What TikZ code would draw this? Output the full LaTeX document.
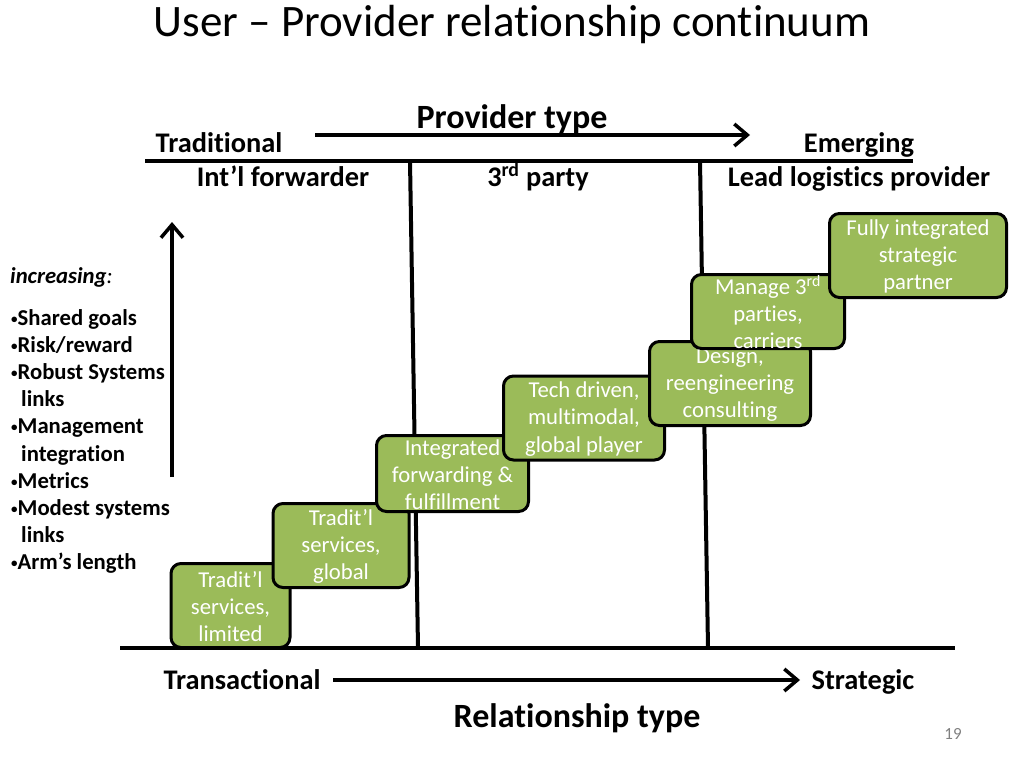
\documentclass[tikz,border=0pt]{standalone}
\usepackage{fontspec}
\setmainfont{Carlito}[Ligatures={TeX,NoCommon}]
\usetikzlibrary{arrows.meta,positioning,calc}
\definecolor{stairgreen}{HTML}{9BBB59}
\newcommand{\stairlabel}[3]{\parbox[c][#2pt][c]{#1pt}{\vspace*{2pt}\centering #3}}
\newcommand{\dotmark}{\raisebox{2pt}{\fontsize{13}{13}\selectfont •}}
\begin{document}
\begin{tikzpicture}[x=1pt, y=-1pt,
    head/.style={font=\bfseries\fontsize{28.4}{34}\selectfont, inner sep=0pt},
    axislabel/.style={font=\bfseries\fontsize{34}{40}\selectfont, inner sep=0pt},
    stair/.style={draw=black, line width=3pt, fill=stairgreen, rounded corners=10pt,
        inner sep=0pt, text=white, font=\fontsize{22.7}{27.2}\selectfont},
    bar/.style={line width=4pt},
    flow/.style={line width=3.5pt, -{Straight Barb[length=13pt,width=22pt]}}]
        \useasboundingbox (0,0) rectangle (1024,768);
        % Title
        \node [anchor=base, font=\fontsize{45}{54}\selectfont] (title) at (512,37)
            {User – Provider relationship continuum};

        % Provider type axis
        \node [axislabel, anchor=base] (ptype) at (512,128) {Provider type};
        \node [head, anchor=base] (trad) at (219,152) {Traditional};
        \node [head, anchor=base] (emerg) at (859,152) {Emerging};
        \coordinate (ptail) at (315,135);
        \coordinate (phead) at (750,135);
        \draw [flow] (ptail) -- (phead);
        \draw [bar] (145,161) -- (913,161);
        \node [head, anchor=base] (fwd) at (283,186) {Int’l forwarder};
        \node [head, anchor=base] (third) at (538,186) {3\textsuperscript{rd} party};
        \node [head, anchor=base] (llp) at (859,186) {Lead logistics provider};

        % Dividers and base line
        \draw [bar] (410,161) -- (418,648);
        \draw [bar] (700,161) -- (708,648);
        \draw [bar] (120,648) -- (955,648);

        % Steps
        \node [stair] (limited) at (230.5,605.5)
            {\stairlabel{119}{84}{Tradit’l\\services,\\limited}};
        \node [stair] (global) at (341,545.5)
            {\stairlabel{136}{84}{Tradit’l\\services,\\global}};
        \node [stair] (integrated) at (452.5,473.5)
            {\stairlabel{152}{76}{Integrated\\forwarding \&\\fulfillment}};
        \node [stair] (tech) at (584,418)
            {\stairlabel{161}{84}{Tech driven,\\multimodal,\\global player}};
        \node [stair] (design) at (730,383.5)
            {\stairlabel{161}{84}{Design,\\reengineering\\consulting}};
        \node [stair] (manage) at (768,311.5)
            {\stairlabel{153}{74}{Manage 3\textsuperscript{rd}\\parties,\\carriers}};
        \node [stair] (partner) at (918,255.5)
            {\stairlabel{177}{84}{Fully integrated\\strategic\\partner}};

        % Increasing list
        \coordinate (ubottom) at (172,477);
        \coordinate (utop) at (172,222);
        \draw [flow] (ubottom) -- (utop);
        \node [anchor=base west, inner sep=0pt, font=\fontsize{22.7}{27.2}\selectfont] (incr) at (10,283)
            {\textbf{\textit{increasing}}\textit{:}};
        \node [anchor=north west, align=left, inner sep=0pt,
            font=\bfseries\fontsize{22.7}{27.2}\selectfont] (goals) at (11,309)
            {\dotmark Shared goals\\
             \dotmark Risk/reward\\
             \dotmark Robust Systems\\
             \hspace*{10pt}links\\
             \dotmark Management\\
             \hspace*{10pt}integration\\
             \dotmark Metrics\\
             \dotmark Modest systems\\
             \hspace*{10pt}links\\
             \dotmark Arm’s length};

        % Relationship type axis
        \node [head, anchor=base] (trans) at (242,689) {Transactional};
        \node [head, anchor=base] (strat) at (863,689) {Strategic};
        \coordinate (rtail) at (333,680);
        \coordinate (rhead) at (800,680);
        \draw [flow] (rtail) -- (rhead);
        \node [axislabel, anchor=base] (rtype) at (577,727) {Relationship type};
        \node [anchor=base, text=gray, font=\fontsize{17}{20}\selectfont] (page) at (953,739) {19};
\end{tikzpicture}
\end{document}
